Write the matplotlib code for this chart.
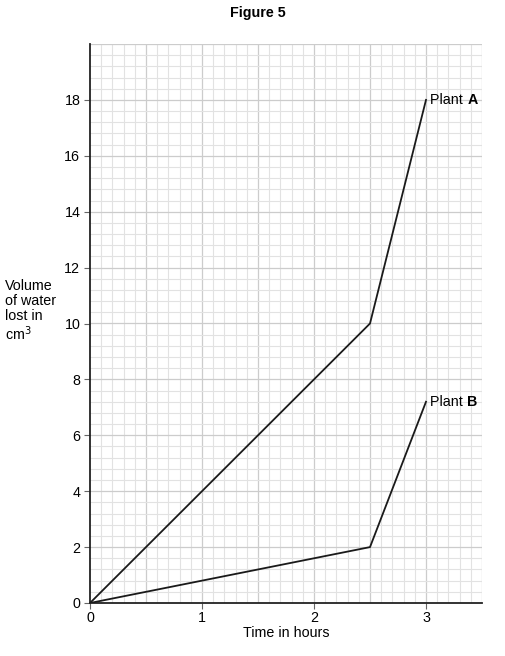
import matplotlib
matplotlib.use("Agg")
import matplotlib.pyplot as plt
import numpy as np

plt.rcParams['font.family'] = ['Liberation Sans', 'DejaVu Sans']

time_hours = [0, 2.5, 3]
plant_a = [0, 10, 18]
plant_b = [0, 2, 7.2]
x_ticks = [0, 1, 2, 3]
y_ticks = [0, 2, 4, 6, 8, 10, 12, 14, 16, 18]

fs = 10.3
fig = plt.figure(figsize=(5.05, 6.56), dpi=100)
ax = fig.add_axes([90/505, 1-603/656, (482-90)/505, (603-44)/656])
ax.set_xlim(0, 3.5)
ax.set_ylim(0, 20)

# grid
for xv in np.arange(0.1, 3.51, 0.1):
    major = abs(xv*2 - round(xv*2)) < 1e-6
    ax.axvline(xv, color='#cccccc' if major else '#e2e2e2', lw=0.9 if major else 0.8, zorder=0)
for yv in np.arange(0.4, 20.01, 0.4):
    major = abs(yv/2 - round(yv/2)) < 1e-6
    ax.axhline(yv, color='#cccccc' if major else '#e2e2e2', lw=0.9 if major else 0.8, zorder=0)

ax.plot(time_hours, plant_a, color='#1a1a1a', lw=1.3, zorder=3)
ax.plot(time_hours, plant_b, color='#1a1a1a', lw=1.3, zorder=3)

for yv, name in [(plant_a[-1], 'A'), (plant_b[-1], 'B')]:
    t = ax.text(time_hours[-1] + 0.04, yv, 'Plant ', fontsize=fs, va='center', ha='left')
    ax.annotate(name, xy=(1, 0), xycoords=t, va='bottom', ha='left', fontsize=fs, fontweight='bold')

for s in ['top', 'right']:
    ax.spines[s].set_visible(False)
for s in ['left', 'bottom']:
    ax.spines[s].set_color('#222222')
    ax.spines[s].set_linewidth(1.3)

ax.set_xticks(x_ticks)
ax.set_yticks(y_ticks)
ax.set_xticklabels([str(v) for v in x_ticks])
ax.set_yticklabels([str(v) for v in y_ticks])
ax.tick_params(labelsize=fs, length=4, width=0.8, color='#666666', pad=3)
ax.tick_params(axis='x', pad=1.5)

ax.set_xlabel('Time in hours', fontsize=fs, labelpad=1)
fig.text(5/505, 1-311/656, 'Volume\nof water\nlost in\ncm$^3$', fontsize=fs, ha='left', va='center', linespacing=1.1)
fig.text(258/505, 1-13/656, 'Figure 5', fontsize=10.3, fontweight='bold', ha='center', va='center')

fig.savefig('out.png', dpi=100)
